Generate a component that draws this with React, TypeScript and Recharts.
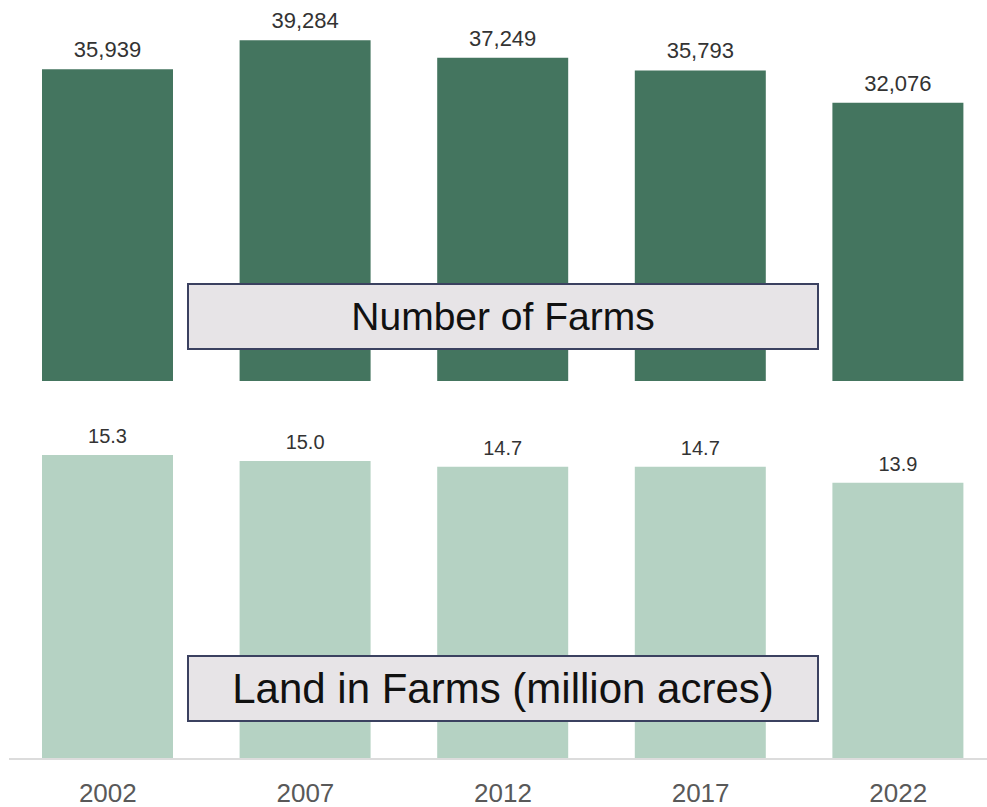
import React from "react";
import { BarChart, Bar, XAxis, YAxis, LabelList } from "recharts";

const years = ["2002", "2007", "2012", "2017", "2022"];
const farmCounts = [35939, 39284, 37249, 35793, 32076];
const landMillionAcres = [15.3, 15.0, 14.7, 14.7, 13.9];
const topTitle = "Number of Farms";
const bottomTitle = "Land in Farms (million acres)";

const farmData = years.map((y, i) => ({ year: y, value: farmCounts[i] }));
const landData = years.map((y, i) => ({ year: y, value: landMillionAcres[i] }));

const DARK = "#44755f";
const LIGHT = "#b5d2c3";
const LABEL_FONT = "'Liberation Sans', Arial, sans-serif";

const boxStyle = (top: number, fontSize: number): React.CSSProperties => ({
  position: "absolute",
  left: 187,
  top,
  width: 632,
  height: 67,
  boxSizing: "border-box",
  background: "#e7e4e7",
  border: "2px solid #3b4160",
  display: "flex",
  alignItems: "center",
  justifyContent: "center",
  fontFamily: "'Liberation Sans', Arial, sans-serif",
  fontSize,
  color: "#111",
  whiteSpace: "nowrap",
});

export default function App() {
  return (
    <div
      style={{
        position: "relative",
        width: 987,
        height: 807,
        overflow: "hidden",
        background: "#fff",
      }}
    >
      <style>{"body{margin:0;overflow:hidden}"}</style>
      <div style={{ position: "absolute", left: 0, top: 0 }}>
        <BarChart
          width={1000}
          height={390}
          data={farmData}
          margin={{ top: 34, left: 9, right: 3, bottom: 9 }}
          barSize={131}
        >
          <XAxis dataKey="year" hide />
          <YAxis hide domain={[0, 40000]} />
          <Bar dataKey="value" fill={DARK} isAnimationActive={false}>
            <LabelList
              dataKey="value"
              position="top"
              offset={12}
              formatter={(v: number) => v.toLocaleString("en-US")}
              style={{ fontFamily: LABEL_FONT, fontSize: 22, fill: "#333" }}
            />
          </Bar>
        </BarChart>
      </div>
      <div style={{ position: "absolute", left: 0, top: 390 }}>
        <BarChart
          width={1000}
          height={417}
          data={landData}
          margin={{ top: 51, left: 9, right: 3, bottom: 0 }}
          barSize={131}
        >
          <XAxis
            dataKey="year"
            height={48}
            tickLine={false}
            tickMargin={19}
            axisLine={{ stroke: "#dcdcdc", strokeWidth: 2 }}
            tick={{ fontFamily: LABEL_FONT, fontSize: 26, fill: "#595959" }}
          />
          <YAxis hide domain={[0, 16]} />
          <Bar dataKey="value" fill={LIGHT} isAnimationActive={false}>
            <LabelList
              dataKey="value"
              position="top"
              offset={12}
              formatter={(v: number) => v.toFixed(1)}
              style={{ fontFamily: LABEL_FONT, fontSize: 20, fill: "#333" }}
            />
          </Bar>
        </BarChart>
      </div>
      <div style={boxStyle(283, 39)}>{topTitle}</div>
      <div style={boxStyle(655, 42)}>{bottomTitle}</div>
    </div>
  );
}
